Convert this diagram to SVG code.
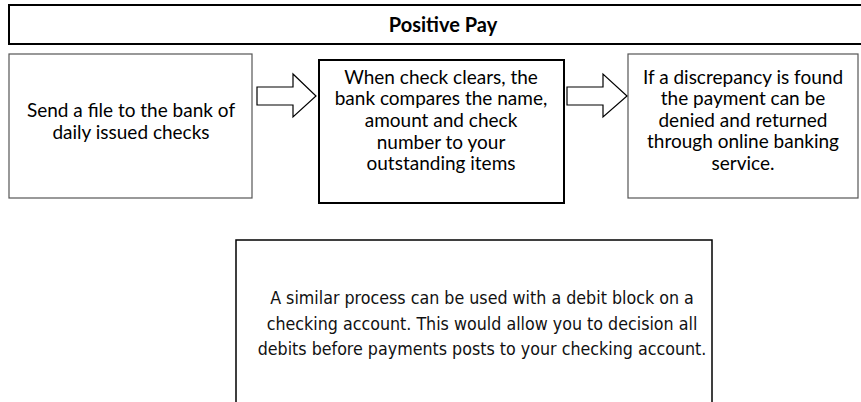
<svg xmlns="http://www.w3.org/2000/svg" width="861" height="402" viewBox="0 0 861 402">
<style>
.box{fill:#fff;stroke:#555;stroke-width:1.2}
.thick{fill:#fff;stroke:#000;stroke-width:2}
.t{font-family:Lato,"Liberation Sans",sans-serif;font-size:19px;fill:#000;text-anchor:middle}
.b{font-family:"DejaVu Sans Condensed","DejaVu Sans",sans-serif;font-size:17.7px;fill:#111;text-anchor:middle}
.arr{fill:#fff;stroke:#000;stroke-width:1.2;stroke-linejoin:miter}
</style>
<rect width="861" height="402" fill="#fff"/>
<g id="title">
<rect x="9" y="5" width="860" height="39" fill="#fff" stroke="#000" stroke-width="2"/>
<text x="443" y="32" class="t" font-weight="bold" style="font-size:20px">Positive Pay</text>
</g>
<g id="step1">
<rect class="box" x="9" y="54" width="243" height="144"/>
<text class="t" x="131" y="117">Send a file to the bank of</text>
<text class="t" x="131" y="139">daily issued checks</text>
</g>
<g id="step2">
<rect class="thick" x="319" y="60" width="245" height="143"/>
<text class="t" x="441" y="84">When check clears, the</text>
<text class="t" x="441" y="105">bank compares the name,</text>
<text class="t" x="441" y="127">amount and check</text>
<text class="t" x="441" y="149">number to your</text>
<text class="t" x="441" y="170">outstanding items</text>
</g>
<g id="step3">
<rect class="box" x="628" y="54" width="230" height="144"/>
<text class="t" x="743" y="84">If a discrepancy is found</text>
<text class="t" x="743" y="105">the payment can be</text>
<text class="t" x="743" y="127">denied and returned</text>
<text class="t" x="743" y="148">through online banking</text>
<text class="t" x="743" y="170">service.</text>
</g>
<g id="connectors">
<path class="arr" d="M257,87 H293 V74 L316,96 L293,117 V105 H257 Z"/>
<path class="arr" d="M567,87 H603 V74 L627,96 L603,117 V105 H567 Z"/>
</g>
<g id="note">
<rect x="236" y="240" width="476" height="180" fill="#fff" stroke="#000" stroke-width="1.5"/>
<text class="b" x="482" y="304">A similar process can be used with a debit block on a</text>
<text class="b" x="482" y="330">checking account. This would allow you to decision all</text>
<text class="b" x="482" y="355">debits before payments posts to your checking account.</text>
</g>
</svg>
